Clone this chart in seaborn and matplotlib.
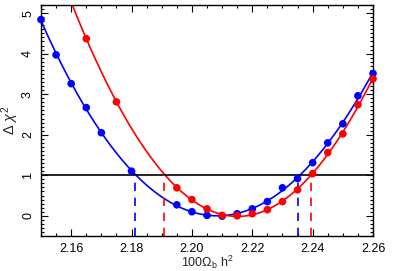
import numpy as np
import pandas as pd
import matplotlib
matplotlib.use("Agg")
import matplotlib.pyplot as plt
from matplotlib.ticker import MultipleLocator
import seaborn as sns

# Data
blue_x = [2.150, 2.155, 2.160, 2.165, 2.170, 2.180, 2.195, 2.200, 2.205, 2.210,
          2.215, 2.220, 2.225, 2.230, 2.235, 2.240, 2.245, 2.250, 2.255, 2.260]
blue_y = [4.84, 3.97, 3.26, 2.67, 2.05, 1.10, 0.27, 0.10, 0.01, -0.01,
          0.05, 0.17, 0.35, 0.69, 0.92, 1.31, 1.80, 2.27, 2.96, 3.51]
red_x = [2.165, 2.175, 2.195, 2.200, 2.205, 2.210, 2.215, 2.220, 2.225,
         2.230, 2.235, 2.240, 2.245, 2.250, 2.255, 2.260]
red_y = [4.37, 2.81, 0.69, 0.40, 0.17, 0.01, 0.00, 0.05, 0.15,
         0.35, 0.64, 1.04, 1.56, 2.02, 2.74, 3.38]
blue_bounds = [2.1810, 2.2353]
red_bounds = [2.1908, 2.2393]
threshold = 1.0

sns.set_style("ticks")
plt.rcParams['font.family'] = ['Liberation Sans', 'DejaVu Sans']
plt.rcParams['mathtext.fontset'] = 'custom'
plt.rcParams['mathtext.rm'] = 'Liberation Sans'
plt.rcParams['mathtext.it'] = 'Liberation Sans:italic'

fig = plt.figure(figsize=(4.07, 2.71), dpi=100)
ax = fig.add_axes([0.1007, 0.129, 0.8158, 0.8525])

def fit_curve(xs, ys, x0, x1):
    c = np.polyfit(xs, ys, 4)
    xx = np.linspace(x0, x1, 300)
    return pd.DataFrame({"x": xx, "y": np.polyval(c, xx)})

bc = fit_curve(blue_x, blue_y, 2.15, 2.26)
rc = fit_curve(red_x, red_y, 2.155, 2.26)

sns.lineplot(data=bc, x="x", y="y", color="#0000ff", lw=1.2, ax=ax, sort=False)
sns.lineplot(data=rc, x="x", y="y", color="#ff0000", lw=1.2, ax=ax, sort=False)
sns.scatterplot(x=blue_x, y=blue_y, color="#0000ff", s=30, edgecolor="none", ax=ax, zorder=5, clip_on=False)
sns.scatterplot(x=red_x, y=red_y, color="#ff0000", s=30, edgecolor="none", ax=ax, zorder=5, clip_on=False)

ax.axhline(threshold, color="black", lw=1.2)
for b in blue_bounds:
    ax.plot([b, b], [-0.5, threshold], color="#0000ff", lw=1.2, ls=(0, (5, 4)))
for b in red_bounds:
    ax.plot([b, b], [-0.5, threshold], color="#ff0000", lw=1.2, ls=(0, (5, 4)))

ax.set_xlim(2.15, 2.26)
ax.set_ylim(-0.5, 5.2)
ax.xaxis.set_minor_locator(MultipleLocator(0.005))
ax.yaxis.set_minor_locator(MultipleLocator(0.1))
ax.set_xticks([2.16, 2.18, 2.20, 2.22, 2.24, 2.26])
ax.set_xticklabels(["2.16", "2.18", "2.20", "2.22", "2.24", "2.26"])
ax.set_yticks([0, 1, 2, 3, 4, 5])
ax.set_yticklabels(["0", "1", "2", "3", "4", "5"], rotation=90, va="center")
ax.tick_params(which="both", direction="in", top=True, right=True, labelsize=9, width=0.8, colors="black")
ax.tick_params(which="major", length=5)
ax.tick_params(axis="x", which="major", pad=5)
ax.tick_params(axis="y", which="major", pad=5)
ax.tick_params(which="minor", length=2.5)
for s in ax.spines.values():
    s.set_linewidth(1.0)
    s.set_color("black")

ax.set_xlabel(r"100$\Omega_{\rm b}$ h$^2$", fontsize=9)
ax.xaxis.set_label_coords(0.5, -0.076)
ax.set_ylabel(r"$\Delta\ \chi^2$", fontsize=10.5)
ax.yaxis.set_label_coords(-0.06, 0.5)

fig.savefig("out.png", dpi=100)
